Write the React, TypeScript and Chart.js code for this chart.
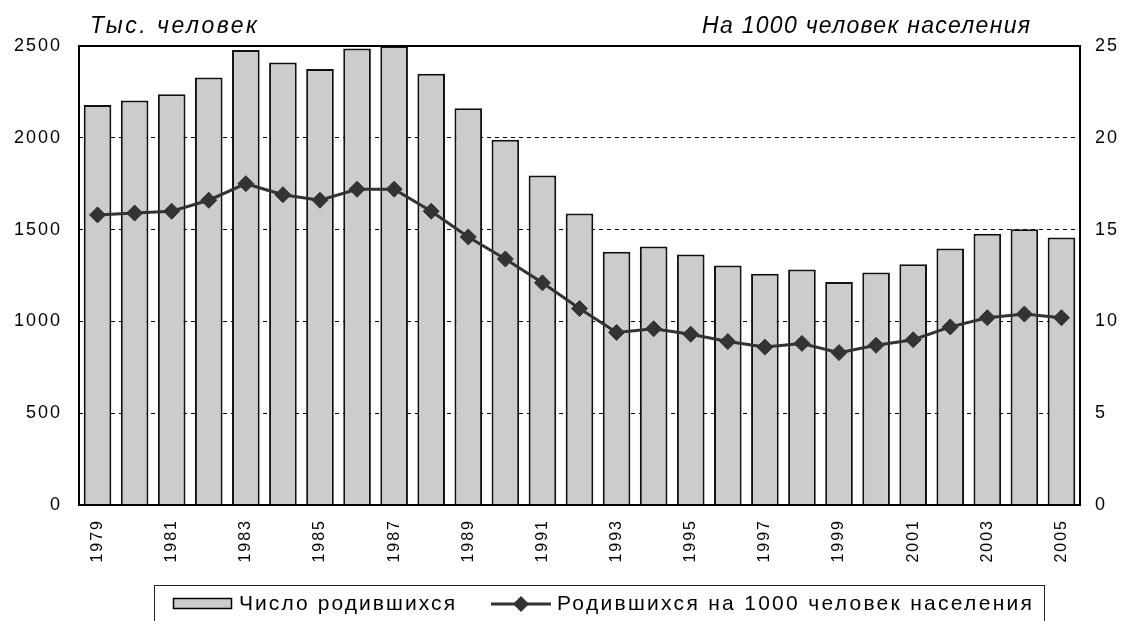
import React, { useEffect, useRef } from 'react';
import { Chart, registerables } from 'chart.js';

Chart.register(...registerables);

const years = [
  '1979', '1980', '1981', '1982', '1983', '1984', '1985', '1986', '1987',
  '1988', '1989', '1990', '1991', '1992', '1993', '1994', '1995', '1996',
  '1997', '1998', '1999', '2000', '2001', '2002', '2003', '2004', '2005',
];

// Тыс. человек
const births = [
  2178.5, 2202.8, 2236.6, 2328.0, 2478.3, 2409.6, 2375.1, 2485.9, 2500.0,
  2348.5, 2160.6, 1988.9, 1794.6, 1587.6, 1378.9, 1408.2, 1363.8, 1304.6,
  1259.9, 1283.3, 1214.7, 1266.8, 1311.6, 1397.0, 1477.3, 1502.5, 1457.4,
];

// На 1000 человек населения
const birthRate = [
  15.8, 15.9, 16.0, 16.6, 17.5, 16.9, 16.6, 17.2, 17.2,
  16.0, 14.6, 13.4, 12.1, 10.7, 9.4, 9.6, 9.3, 8.9,
  8.6, 8.8, 8.3, 8.7, 9.0, 9.7, 10.2, 10.4, 10.2,
];

const leftAxis = { min: 0, max: 2500, step: 500 };
const rightAxis = { min: 0, max: 25, step: 5 };

const leftTitle = 'Тыс. человек';
const rightTitle = 'На 1000 человек населения';
const barLabel = 'Число родившихся';
const lineLabel = 'Родившихся на 1000 человек населения';

const FONT = '"Liberation Sans", Arial, Helvetica, sans-serif';
const BAR_FILL = '#cccccc';
const LINE_COLOR = '#333333';

function fitText(ctx: CanvasRenderingContext2D, text: string, x: number, y: number, width: number) {
  ctx.letterSpacing = '0px';
  const w0 = ctx.measureText(text).width;
  const n = Array.from(text).length;
  const sp = (width - w0) / Math.max(1, n - 1);
  ctx.letterSpacing = sp.toFixed(2) + 'px';
  ctx.textAlign = 'left';
  ctx.fillText(text, x, y);
  ctx.letterSpacing = '0px';
}

function diamond(ctx: CanvasRenderingContext2D, x: number, y: number, r: number) {
  ctx.beginPath();
  ctx.moveTo(x, y - r);
  ctx.lineTo(x + r, y);
  ctx.lineTo(x, y + r);
  ctx.lineTo(x - r, y);
  ctx.closePath();
  ctx.fill();
}

const decorPlugin = {
  id: 'decor',
  beforeDraw(chart: any) {
    chart.ctx.letterSpacing = '2px';
  },
  afterDraw(chart: any) {
    const ctx: CanvasRenderingContext2D = chart.ctx;
    const { left, right, top, bottom } = chart.chartArea;
    ctx.save();
    ctx.letterSpacing = '0px';
    // plot border
    ctx.strokeStyle = '#000';
    ctx.lineWidth = 2;
    ctx.setLineDash([]);
    ctx.strokeRect(left, top, right - left, bottom - top);

    // axis titles
    ctx.fillStyle = '#000';
    ctx.textBaseline = 'alphabetic';
    ctx.font = 'italic 23px ' + FONT;
    fitText(ctx, leftTitle, 90, 33, 167);
    fitText(ctx, rightTitle, 702, 33, 328);

    // legend
    ctx.lineWidth = 1;
    ctx.strokeStyle = '#222';
    ctx.strokeRect(154.5, 585.5, 890, 60);

    ctx.fillStyle = BAR_FILL;
    ctx.fillRect(173, 598, 59, 11);
    ctx.lineWidth = 1.5;
    ctx.strokeStyle = '#000';
    ctx.strokeRect(173.5, 598.5, 58, 10);

    ctx.fillStyle = '#000';
    ctx.font = '21px ' + FONT;
    fitText(ctx, barLabel, 239, 610, 216);

    ctx.strokeStyle = LINE_COLOR;
    ctx.lineWidth = 3;
    ctx.beginPath();
    ctx.moveTo(491, 604);
    ctx.lineTo(551, 604);
    ctx.stroke();
    ctx.fillStyle = LINE_COLOR;
    diamond(ctx, 521, 604, 8);

    ctx.fillStyle = '#000';
    fitText(ctx, lineLabel, 557, 610, 475);
    ctx.restore();
  },
};

export default function App() {
  const ref = useRef<HTMLCanvasElement | null>(null);

  useEffect(() => {
    if (!ref.current) return;
    const chart = new Chart(ref.current, {
      type: 'bar',
      data: {
        labels: years,
        datasets: [
          {
            type: 'line',
            label: lineLabel,
            data: birthRate,
            yAxisID: 'y1',
            order: 0,
            borderColor: LINE_COLOR,
            borderWidth: 3,
            tension: 0,
            pointStyle: 'rectRot',
            pointRadius: 8,
            pointBackgroundColor: LINE_COLOR,
            pointBorderColor: LINE_COLOR,
            pointBorderWidth: 1,
          } as any,
          {
            type: 'bar',
            label: barLabel,
            data: births,
            yAxisID: 'y',
            order: 1,
            backgroundColor: BAR_FILL,
            borderColor: '#111',
            borderWidth: 2,
            categoryPercentage: 1,
            barPercentage: 0.745,
          },
        ],
      },
      options: {
        responsive: false,
        animation: false,
        devicePixelRatio: 1,
        layout: { padding: { top: 46, left: 0, right: 0, bottom: 0 } },
        plugins: {
          legend: { display: false },
          tooltip: { enabled: false },
          title: { display: false },
        },
        scales: {
          x: {
            offset: true,
            grid: { display: false },
            border: { display: false },
            ticks: {
              autoSkip: false,
              minRotation: 90,
              maxRotation: 90,
              padding: 6,
              color: '#000',
              font: { family: FONT, size: 16 },
              callback: (_v: any, i: number) => (i % 2 === 0 ? years[i] : ''),
            },
            afterFit: (s: any) => { s.height = 116; },
          },
          y: {
            position: 'left',
            min: leftAxis.min,
            max: leftAxis.max,
            grid: { color: '#000', lineWidth: 1, drawTicks: false },
            border: { display: false, dash: [4, 4] },
            ticks: {
              stepSize: leftAxis.step,
              padding: 17,
              color: '#000',
              font: { family: FONT, size: 18 },
              callback: (v: any) => String(v),
            },
            afterFit: (s: any) => { s.width = 79; },
          },
          y1: {
            position: 'right',
            min: rightAxis.min,
            max: rightAxis.max,
            grid: { drawOnChartArea: false, drawTicks: false },
            border: { display: false },
            ticks: {
              stepSize: rightAxis.step,
              padding: 15,
              color: '#000',
              font: { family: FONT, size: 18 },
              callback: (v: any) => String(v),
            },
            afterFit: (s: any) => { s.width = 42; },
          },
        },
      },
      plugins: [decorPlugin],
    });
    return () => chart.destroy();
  }, []);

  return (
    <div style={{ position: 'fixed', left: 0, top: 0, width: 1122, height: 621, background: '#fff' }}>
      <canvas ref={ref} width={1122} height={621} style={{ display: 'block' }} />
    </div>
  );
}
